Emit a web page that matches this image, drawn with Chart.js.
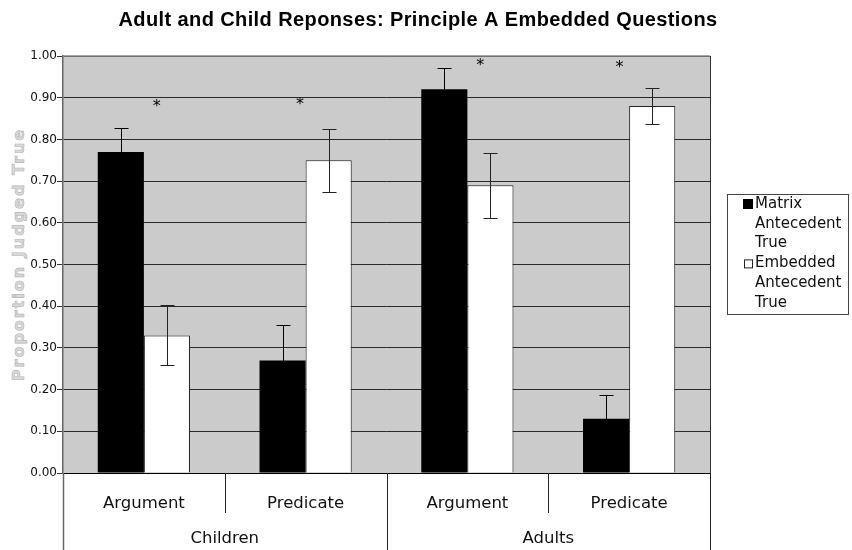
<!DOCTYPE html>
<html><head><meta charset="utf-8">
<script src="https://cdn.jsdelivr.net/npm/chart.js@4.4.1/dist/chart.umd.min.js"></script>
<style>html,body{margin:0;padding:0;background:#fff;}#wrap{width:852px;height:550px;position:relative;}</style>
</head><body><div id="wrap"><canvas id="c" width="852" height="550"></canvas></div>
<script>
// ---- data ----
const chartTitle = 'Adult and Child Reponses: Principle A Embedded Questions';
const yAxisTitle = 'Proportion Judged True';
const groups = ['Children', 'Adults'];
const categoryGroup = [0, 0, 1, 1];
const categories = ['Argument', 'Predicate', 'Argument', 'Predicate'];
const seriesNames = ['Matrix Antecedent True', 'Embedded Antecedent True'];
const matrixValues = [0.77, 0.27, 0.92, 0.13];
const embeddedValues = [0.33, 0.75, 0.69, 0.88];
const matrixErrors = [0.057, 0.085, 0.052, 0.056];
const embeddedErrors = [0.072, 0.075, 0.078, 0.043];
const yTicks = [0.00, 0.10, 0.20, 0.30, 0.40, 0.50, 0.60, 0.70, 0.80, 0.90, 1.00];
const sigCategory = [0, 1, 2, 3];
const sigValues = [0.887, 0.892, 0.986, 0.981];
const sigShift = [0.08, -0.035, 0.08, -0.06];

const errorSets = [matrixErrors, embeddedErrors];
const errorColors = ['#000', '#222'];

const decor = {
  id: 'decor',
  beforeDraw(chart) {
    const {ctx, chartArea: a} = chart;
    ctx.save();
    ctx.fillStyle = '#cbcbcb';
    ctx.fillRect(a.left, a.top, a.right - a.left, a.bottom - a.top);
    ctx.restore();
  },
  afterDatasetsDraw(chart) {
    const {ctx, chartArea: a} = chart;
    const ys = chart.scales.y;
    ctx.save();
    // error bars
    ctx.lineWidth = 1;
    chart.data.datasets.forEach((ds, di) => {
      const meta = chart.getDatasetMeta(di);
      ctx.strokeStyle = errorColors[di];
      meta.data.forEach((el, i) => {
        const v = ds.data[i], e = errorSets[di][i];
        const x = Math.round(el.x) + 0.5;
        const yt = Math.round(ys.getPixelForValue(v + e)) + 0.5;
        const yb = Math.round(ys.getPixelForValue(v - e)) + 0.5;
        ctx.beginPath();
        ctx.moveTo(x, yt); ctx.lineTo(x, yb);
        ctx.moveTo(x - 7, yt); ctx.lineTo(x + 7, yt);
        ctx.moveTo(x - 7, yb); ctx.lineTo(x + 7, yb);
        ctx.stroke();
      });
    });
    // plot border top
    ctx.strokeStyle = '#888';
    ctx.lineWidth = 1.5;
    ctx.beginPath();
    ctx.moveTo(a.left, a.top); ctx.lineTo(a.right, a.top);
    ctx.stroke();
    ctx.restore();
  },
  afterDraw(chart) {
    const {ctx, chartArea: a} = chart;
    const xs = chart.scales.x, ys = chart.scales.y;
    const H = chart.height;
    const catW = (xs.right - xs.left) / categories.length;
    ctx.save();
    // chart title
    ctx.fillStyle = '#000';
    ctx.font = 'bold 20px "Liberation Sans", Arial, sans-serif';
    try { ctx.letterSpacing = '0.4px'; } catch (e) {}
    ctx.textAlign = 'center';
    ctx.textBaseline = 'middle';
    ctx.fillText(chartTitle, 418, 20);
    try { ctx.letterSpacing = '0px'; } catch (e) {}
    // asterisks
    ctx.font = '16px "DejaVu Sans"';
    ctx.textBaseline = 'alphabetic';
    const m = ctx.measureText('*');
    const off = (m.actualBoundingBoxAscent - m.actualBoundingBoxDescent) / 2;
    sigCategory.forEach((c, k) => {
      const x = xs.getPixelForValue(c) + sigShift[k] * catW;
      const y = ys.getPixelForValue(sigValues[k]) + off;
      ctx.fillText('*', x, y);
    });
    // right border
    ctx.strokeStyle = '#333';
    ctx.lineWidth = 1;
    ctx.beginPath();
    ctx.moveTo(Math.round(a.right) + 0.5, a.top);
    ctx.lineTo(Math.round(a.right) + 0.5, H);
    ctx.stroke();
    // dividers under axis
    for (let i = 0; i <= categories.length; i++) {
      const bx = Math.round(xs.left + i * catW) + 0.5;
      const isGroup = i === 0 || i === categories.length || categoryGroup[i] !== categoryGroup[i - 1];
      ctx.strokeStyle = i === 0 ? '#666' : '#222';
      ctx.lineWidth = i === 0 ? 1.5 : 1;
      ctx.beginPath();
      ctx.moveTo(bx, a.bottom);
      ctx.lineTo(bx, isGroup ? H : a.bottom + 40);
      ctx.stroke();
    }
    // group labels
    ctx.fillStyle = '#111';
    ctx.font = '16.5px "DejaVu Sans"';
    ctx.textBaseline = 'middle';
    groups.forEach((g, gi) => {
      const idx = categoryGroup.map((v, i) => v === gi ? i : -1).filter(i => i >= 0);
      const x0 = xs.left + idx[0] * catW, x1 = xs.left + (idx[idx.length - 1] + 1) * catW;
      ctx.fillText(g, (x0 + x1) / 2, a.bottom + 66);
    });
    // y axis title
    ctx.save();
    ctx.translate(20, (a.top + a.bottom) / 2 - 10);
    ctx.rotate(-Math.PI / 2);
    ctx.font = 'bold 16px "DejaVu Sans"';
    try { ctx.letterSpacing = '2px'; } catch (e) {}
    ctx.textAlign = 'center';
    ctx.textBaseline = 'middle';
    ctx.fillStyle = '#d8d8d8';
    ctx.fillText(yAxisTitle, 0, 0);
    ctx.strokeStyle = '#b4b4b4';
    ctx.lineWidth = 0.6;
    ctx.strokeText(yAxisTitle, 0, 0);
    ctx.restore();
    // legend
    const lx = a.right + 17, ly = 194, lw = 121, lh = 120;
    ctx.strokeStyle = '#444';
    ctx.lineWidth = 1;
    ctx.strokeRect(Math.round(lx) + 0.5, ly + 0.5, lw, lh);
    ctx.font = '15px "DejaVu Sans"';
    ctx.textAlign = 'left';
    ctx.textBaseline = 'middle';
    ctx.fillStyle = '#111';
    let y = ly + 10;
    const lineH = 19.8;
    chart.data.datasets.forEach((ds, di) => {
      const words = seriesNames[di].split(' ');
      const lines = [];
      let cur = '';
      words.forEach(w => {
        const t = cur ? cur + ' ' + w : w;
        if (cur && ctx.measureText(t).width > 92) { lines.push(cur); cur = w; } else cur = t;
      });
      if (cur) lines.push(cur);
      if (di === 0) {
        ctx.fillStyle = '#000';
        ctx.fillRect(lx + 16, y - 5, 10, 10);
      } else {
        ctx.fillStyle = '#fff';
        ctx.fillRect(lx + 17.5, y - 3.5, 8, 8);
        ctx.strokeStyle = '#222';
        ctx.strokeRect(lx + 17.5, y - 3.5, 8, 8);
      }
      ctx.fillStyle = '#111';
      lines.forEach((ln, li) => {
        ctx.fillText(ln, lx + 28, y + li * lineH);
      });
      y += lines.length * lineH;
    });
    ctx.restore();
  }
};

new Chart(document.getElementById('c'), {
  type: 'bar',
  data: {
    labels: categories,
    datasets: [
      { label: seriesNames[0], data: matrixValues, backgroundColor: '#000', borderColor: '#000', borderWidth: 0 },
      { label: seriesNames[1], data: embeddedValues, backgroundColor: '#fff', borderColor: '#222', borderWidth: 1 }
    ]
  },
  options: {
    responsive: false,
    animation: false,
    devicePixelRatio: 1,
    datasets: { bar: { barPercentage: 1, categoryPercentage: 0.57 } },
    layout: { padding: { left: 0, right: 142, top: 56, bottom: 0 } },
    plugins: {
      legend: { display: false },
      tooltip: { enabled: false },
      title: { display: false }
    },
    scales: {
      x: {
        type: 'category',
        grid: { display: false },
        border: { display: true, color: '#000', width: 1 },
        ticks: { color: '#111', font: { family: '"DejaVu Sans"', size: 16.5 }, padding: 13, maxRotation: 0, autoSkip: false },
        afterFit: s => { s.height = 77; }
      },
      y: {
        min: 0, max: 1,
        afterBuildTicks: s => { s.ticks = yTicks.map(v => ({ value: v })); },
        ticks: { color: '#111', font: { family: '"DejaVu Sans"', size: 12 }, padding: 0, callback: v => Number(v).toFixed(2) },
        grid: { color: '#2a2a2a', lineWidth: 1, tickLength: 6, tickColor: '#333', drawTicks: true },
        border: { color: '#666', width: 1.5 },
        afterFit: s => { s.width = 63; }
      }
    }
  },
  plugins: [decor]
});
</script>
</body></html>
